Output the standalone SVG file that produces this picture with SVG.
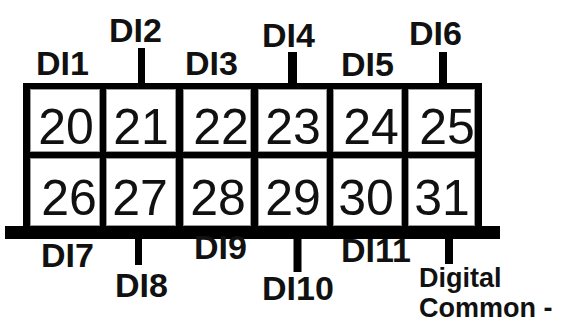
<svg xmlns="http://www.w3.org/2000/svg" width="563" height="324" viewBox="0 0 563 324">
<style>
.cell{fill:#fff;stroke:#9a9a9a;stroke-width:1}
.num{font-family:"Liberation Sans",Arial,sans-serif;font-size:50px;fill:#111;text-anchor:middle}
.lbl{font-family:"Liberation Sans",Arial,sans-serif;font-size:34px;font-weight:bold;fill:#111}
.dc{font-family:"Liberation Sans",Arial,sans-serif;font-size:27px;font-weight:bold;fill:#111}
.leg{stroke:#000;fill:none}
</style>
<rect width="563" height="324" fill="#fff"/>
<g id="frame">
<rect x="23" y="83" width="459" height="150" fill="#000"/>
<rect x="5" y="226" width="495" height="13" fill="#000"/>
</g>
<g id="t20"><rect class="cell" x="30.5" y="89.5" width="69" height="62"/><text class="num" x="66" y="144">20</text></g>
<g id="t21"><rect class="cell" x="106.5" y="89.5" width="69" height="62"/><text class="num" x="141" y="144">21</text></g>
<g id="t22"><rect class="cell" x="183.5" y="89.5" width="67" height="62"/><text class="num" x="221" y="144">22</text></g>
<g id="t23"><rect class="cell" x="258.5" y="89.5" width="68" height="62"/><text class="num" x="293" y="144">23</text></g>
<g id="t24"><rect class="cell" x="333.5" y="89.5" width="68" height="62"/><text class="num" x="371" y="144">24</text></g>
<g id="t25"><rect class="cell" x="408.5" y="89.5" width="66" height="62"/><text class="num" x="447" y="144">25</text></g>
<g id="t26"><rect class="cell" x="30.5" y="158.5" width="69" height="67"/><text class="num" x="69" y="215">26</text></g>
<g id="t27"><rect class="cell" x="106.5" y="158.5" width="69" height="67"/><text class="num" x="140" y="215">27</text></g>
<g id="t28"><rect class="cell" x="183.5" y="158.5" width="67" height="67"/><text class="num" x="218" y="215">28</text></g>
<g id="t29"><rect class="cell" x="258.5" y="158.5" width="68" height="67"/><text class="num" x="293" y="215">29</text></g>
<g id="t30"><rect class="cell" x="333.5" y="158.5" width="68" height="67"/><text class="num" x="366" y="215">30</text></g>
<g id="t31"><rect class="cell" x="408.5" y="158.5" width="66" height="67"/><text class="num" x="442" y="215">31</text></g>
<g id="connectors">
<line class="leg" x1="141.5" y1="48" x2="141.5" y2="86" stroke-width="7"/>
<line class="leg" x1="292.5" y1="52" x2="292.5" y2="86" stroke-width="9"/>
<line class="leg" x1="443" y1="52" x2="443" y2="86" stroke-width="8"/>
<line class="leg" x1="138.5" y1="236" x2="138.5" y2="265" stroke-width="7"/>
<line class="leg" x1="297.5" y1="236" x2="297.5" y2="272" stroke-width="8"/>
<line class="leg" x1="449" y1="236" x2="449" y2="264" stroke-width="8"/>
</g>
<g id="DI1"><text class="lbl" x="36" y="75">DI1</text></g>
<g id="DI2"><text class="lbl" x="109" y="42">DI2</text></g>
<g id="DI3"><text class="lbl" x="185" y="75">DI3</text></g>
<g id="DI4"><text class="lbl" x="262" y="47">DI4</text></g>
<g id="DI5"><text class="lbl" x="341" y="76">DI5</text></g>
<g id="DI6"><text class="lbl" x="409" y="45">DI6</text></g>
<g id="DI7"><text class="lbl" x="41" y="267">DI7</text></g>
<g id="DI8"><text class="lbl" x="115" y="297">DI8</text></g>
<g id="DI9"><text class="lbl" x="194" y="259">DI9</text></g>
<g id="DI10"><text class="lbl" x="262" y="300">DI10</text></g>
<g id="DI11"><text class="lbl" x="341" y="262">DI11</text></g>
<g id="DC"><text class="dc" x="419" y="287">Digital</text><text class="dc" x="419" y="317">Common -</text></g>
</svg>
